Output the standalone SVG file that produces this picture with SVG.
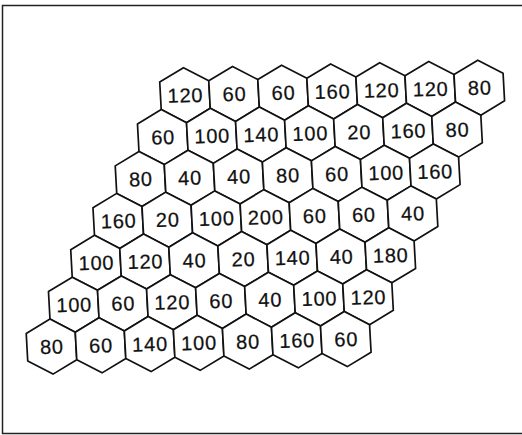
<svg xmlns="http://www.w3.org/2000/svg" xmlns:xlink="http://www.w3.org/1999/xlink" width="522" height="435" viewBox="0 0 522 435">
<style>
.hex{fill:#fff;stroke:#111;stroke-width:1.7;stroke-linejoin:round}
.t{font-family:"Liberation Sans",Arial,sans-serif;font-size:20px;letter-spacing:0.8px;fill:#111;stroke:#111;stroke-width:0.25;text-anchor:middle}
.frame{fill:none;stroke:#222;stroke-width:1.5}
</style>
<defs>
<polygon id="hx" class="hex" points="-1.52,-27.52 23.77,-14.38 25.28,13.13 1.52,27.52 -23.77,14.38 -25.28,-13.13"/>
</defs>
<rect width="522" height="435" fill="#fff"/>
<path class="frame" d="M522,5.5 H2.5 V433.5 H522"/>
<g id="grid">
<g id="r0c0" transform="translate(185,95.2)"><use href="#hx"/><text class="t" x="0.4" y="7.1" transform="rotate(-1.5)">120</text></g>
<g id="r0c1" transform="translate(234.05,93.95)"><use href="#hx"/><text class="t" x="0.4" y="7.1" transform="rotate(-1.5)">60</text></g>
<g id="r0c2" transform="translate(283.1,92.7)"><use href="#hx"/><text class="t" x="0.4" y="7.1" transform="rotate(-1.5)">60</text></g>
<g id="r0c3" transform="translate(332.15,91.45)"><use href="#hx"/><text class="t" x="0.4" y="7.1" transform="rotate(-1.5)">160</text></g>
<g id="r0c4" transform="translate(381.2,90.2)"><use href="#hx"/><text class="t" x="0.4" y="7.1" transform="rotate(-1.5)">120</text></g>
<g id="r0c5" transform="translate(430.25,88.95)"><use href="#hx"/><text class="t" x="0.4" y="7.1" transform="rotate(-1.5)">120</text></g>
<g id="r0c6" transform="translate(479.3,87.7)"><use href="#hx"/><text class="t" x="0.4" y="7.1" transform="rotate(-1.5)">80</text></g>

<g id="r1c0" transform="translate(162.75,137.1)"><use href="#hx"/><text class="t" x="0.4" y="7.1" transform="rotate(-1.5)">60</text></g>
<g id="r1c1" transform="translate(211.8,135.85)"><use href="#hx"/><text class="t" x="0.4" y="7.1" transform="rotate(-1.5)">100</text></g>
<g id="r1c2" transform="translate(260.85,134.6)"><use href="#hx"/><text class="t" x="0.4" y="7.1" transform="rotate(-1.5)">140</text></g>
<g id="r1c3" transform="translate(309.9,133.35)"><use href="#hx"/><text class="t" x="0.4" y="7.1" transform="rotate(-1.5)">100</text></g>
<g id="r1c4" transform="translate(358.95,132.1)"><use href="#hx"/><text class="t" x="0.4" y="7.1" transform="rotate(-1.5)">20</text></g>
<g id="r1c5" transform="translate(408,130.85)"><use href="#hx"/><text class="t" x="0.4" y="7.1" transform="rotate(-1.5)">160</text></g>
<g id="r1c6" transform="translate(457.05,129.6)"><use href="#hx"/><text class="t" x="0.4" y="7.1" transform="rotate(-1.5)">80</text></g>

<g id="r2c0" transform="translate(140.5,179)"><use href="#hx"/><text class="t" x="0.4" y="7.1" transform="rotate(-1.5)">80</text></g>
<g id="r2c1" transform="translate(189.55,177.75)"><use href="#hx"/><text class="t" x="0.4" y="7.1" transform="rotate(-1.5)">40</text></g>
<g id="r2c2" transform="translate(238.6,176.5)"><use href="#hx"/><text class="t" x="0.4" y="7.1" transform="rotate(-1.5)">40</text></g>
<g id="r2c3" transform="translate(287.65,175.25)"><use href="#hx"/><text class="t" x="0.4" y="7.1" transform="rotate(-1.5)">80</text></g>
<g id="r2c4" transform="translate(336.7,174)"><use href="#hx"/><text class="t" x="0.4" y="7.1" transform="rotate(-1.5)">60</text></g>
<g id="r2c5" transform="translate(385.75,172.75)"><use href="#hx"/><text class="t" x="0.4" y="7.1" transform="rotate(-1.5)">100</text></g>
<g id="r2c6" transform="translate(434.8,171.5)"><use href="#hx"/><text class="t" x="0.4" y="7.1" transform="rotate(-1.5)">160</text></g>

<g id="r3c0" transform="translate(118.25,220.9)"><use href="#hx"/><text class="t" x="0.4" y="7.1" transform="rotate(-1.5)">160</text></g>
<g id="r3c1" transform="translate(167.3,219.65)"><use href="#hx"/><text class="t" x="0.4" y="7.1" transform="rotate(-1.5)">20</text></g>
<g id="r3c2" transform="translate(216.35,218.4)"><use href="#hx"/><text class="t" x="0.4" y="7.1" transform="rotate(-1.5)">100</text></g>
<g id="r3c3" transform="translate(265.4,217.15)"><use href="#hx"/><text class="t" x="0.4" y="7.1" transform="rotate(-1.5)">200</text></g>
<g id="r3c4" transform="translate(314.45,215.9)"><use href="#hx"/><text class="t" x="0.4" y="7.1" transform="rotate(-1.5)">60</text></g>
<g id="r3c5" transform="translate(363.5,214.65)"><use href="#hx"/><text class="t" x="0.4" y="7.1" transform="rotate(-1.5)">60</text></g>
<g id="r3c6" transform="translate(412.55,213.4)"><use href="#hx"/><text class="t" x="0.4" y="7.1" transform="rotate(-1.5)">40</text></g>

<g id="r4c0" transform="translate(96,262.8)"><use href="#hx"/><text class="t" x="0.4" y="7.1" transform="rotate(-1.5)">100</text></g>
<g id="r4c1" transform="translate(145.05,261.55)"><use href="#hx"/><text class="t" x="0.4" y="7.1" transform="rotate(-1.5)">120</text></g>
<g id="r4c2" transform="translate(194.1,260.3)"><use href="#hx"/><text class="t" x="0.4" y="7.1" transform="rotate(-1.5)">40</text></g>
<g id="r4c3" transform="translate(243.15,259.05)"><use href="#hx"/><text class="t" x="0.4" y="7.1" transform="rotate(-1.5)">20</text></g>
<g id="r4c4" transform="translate(292.2,257.8)"><use href="#hx"/><text class="t" x="0.4" y="7.1" transform="rotate(-1.5)">140</text></g>
<g id="r4c5" transform="translate(341.25,256.55)"><use href="#hx"/><text class="t" x="0.4" y="7.1" transform="rotate(-1.5)">40</text></g>
<g id="r4c6" transform="translate(390.3,255.3)"><use href="#hx"/><text class="t" x="0.4" y="7.1" transform="rotate(-1.5)">180</text></g>

<g id="r5c0" transform="translate(73.75,304.7)"><use href="#hx"/><text class="t" x="0.4" y="7.1" transform="rotate(-1.5)">100</text></g>
<g id="r5c1" transform="translate(122.8,303.45)"><use href="#hx"/><text class="t" x="0.4" y="7.1" transform="rotate(-1.5)">60</text></g>
<g id="r5c2" transform="translate(171.85,302.2)"><use href="#hx"/><text class="t" x="0.4" y="7.1" transform="rotate(-1.5)">120</text></g>
<g id="r5c3" transform="translate(220.9,300.95)"><use href="#hx"/><text class="t" x="0.4" y="7.1" transform="rotate(-1.5)">60</text></g>
<g id="r5c4" transform="translate(269.95,299.7)"><use href="#hx"/><text class="t" x="0.4" y="7.1" transform="rotate(-1.5)">40</text></g>
<g id="r5c5" transform="translate(319,298.45)"><use href="#hx"/><text class="t" x="0.4" y="7.1" transform="rotate(-1.5)">100</text></g>
<g id="r5c6" transform="translate(368.05,297.2)"><use href="#hx"/><text class="t" x="0.4" y="7.1" transform="rotate(-1.5)">120</text></g>

<g id="r6c0" transform="translate(51.5,346.6)"><use href="#hx"/><text class="t" x="0.4" y="7.1" transform="rotate(-1.5)">80</text></g>
<g id="r6c1" transform="translate(100.55,345.35)"><use href="#hx"/><text class="t" x="0.4" y="7.1" transform="rotate(-1.5)">60</text></g>
<g id="r6c2" transform="translate(149.6,344.1)"><use href="#hx"/><text class="t" x="0.4" y="7.1" transform="rotate(-1.5)">140</text></g>
<g id="r6c3" transform="translate(198.65,342.85)"><use href="#hx"/><text class="t" x="0.4" y="7.1" transform="rotate(-1.5)">100</text></g>
<g id="r6c4" transform="translate(247.7,341.6)"><use href="#hx"/><text class="t" x="0.4" y="7.1" transform="rotate(-1.5)">80</text></g>
<g id="r6c5" transform="translate(296.75,340.35)"><use href="#hx"/><text class="t" x="0.4" y="7.1" transform="rotate(-1.5)">160</text></g>
<g id="r6c6" transform="translate(345.8,339.1)"><use href="#hx"/><text class="t" x="0.4" y="7.1" transform="rotate(-1.5)">60</text></g>
</g>
</svg>
